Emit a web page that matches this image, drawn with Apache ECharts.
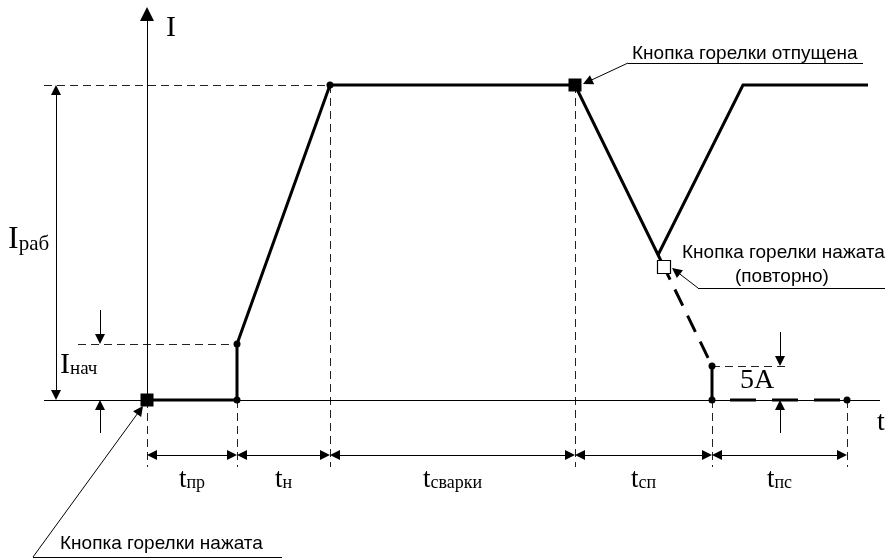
<!DOCTYPE html>
<html><head><meta charset="utf-8">
<script src="https://cdn.jsdelivr.net/npm/echarts@6/dist/echarts.min.js"></script>
<style>html,body{margin:0;padding:0;background:#fff}#c{width:885px;height:560px}</style>
</head><body><div id="c"></div>
<script>
// ---- data (time units / current units measured from the origin) ----
const phaseTimes = [0, 90, 183, 428, 565, 700];          // phase boundaries
const phaseNames = ['пр', 'н', 'сварки', 'сп', 'пс'];     // t subscripts
const I_RAB = 315;      // working current
const I_NACH = 56;      // start current
const I_5A = 34;        // 5 A level
const weldCurve = [[0, 0], [90, 0], [90, 56], [183, 315], [428, 315], [517, 133]];
const downslopeRest = [[517, 133], [565, 34]];
const finalDrop = [[565, 34], [565, 0]];
const postFlow = [[565, 0], [700, 0]];
const restartCurve = [[511, 145], [596, 315], [721, 315]];
const dotPoints = [[90, 0], [90, 56], [183, 315], [565, 34], [565, 0], [700, 0]];
const pressPoints = [[0, 0], [428, 315]];
const repressPoint = [[517, 133]];
const calloutTexts = ['Кнопка горелки нажата', 'Кнопка горелки отпущена', 'Кнопка горелки нажата', '(повторно)'];

// ---- layout ----
const SERIF = '"Liberation Serif","Times New Roman",serif';
const SANS = '"Liberation Sans",Arial,sans-serif';
const DIM_Y = -55, TICK_BOTTOM = -67, LABEL_Y = -80;
const AX_LEFT = -103, AX_RIGHT = 733, AX_TOP = 393;
const CALLOUT_FS = 19;

function shorten(a, b, da, db) {
  const dx = b[0] - a[0], dy = b[1] - a[1], L = Math.hypot(dx, dy);
  return [[a[0] + dx / L * da, a[1] + dy / L * da], [b[0] - dx / L * db, b[1] - dy / L * db]];
}
const AS = 10;   // arrow size
const h = AS / 2;

const plainLines = [
  [[AX_LEFT, 0], [AX_RIGHT, 0]],
  [[-114, -157], [135, -157]],
  [[481, 337], [716, 337]],
  [[551, 112], [738, 112]]
];
const endArrowLines = [
  shorten([-114, -157], [-4, -6], 0, h),
  shorten([481, 337], [436, 316], 0, h),
  shorten([551, 112], [525, 132], 0, h),
  shorten([-47, 90], [-47, I_NACH], 0, h),
  shorten([-47, -33], [-47, 0], 0, h),
  shorten([633, 68], [633, I_5A], 0, h),
  shorten([633, -33], [633, 0], 0, h)
];
const bothArrowLines = [shorten([-91, 0], [-91, I_RAB], h, h)];
for (let i = 0; i < phaseTimes.length - 1; i++) {
  bothArrowLines.push(shorten([phaseTimes[i], DIM_Y], [phaseTimes[i + 1], DIM_Y], h, h));
}
const guideLines = [
  [[AX_LEFT, I_RAB], [phaseTimes[2], I_RAB]],
  [[-69, I_NACH], [phaseTimes[1], I_NACH]],
  [[phaseTimes[4], I_5A], [643, I_5A]],
  [[phaseTimes[2], I_RAB], [phaseTimes[2], TICK_BOTTOM]],
  [[phaseTimes[3], I_RAB], [phaseTimes[3], TICK_BOTTOM]],
  [[phaseTimes[0], 0], [phaseTimes[0], TICK_BOTTOM]],
  [[phaseTimes[1], 0], [phaseTimes[1], TICK_BOTTOM]],
  [[phaseTimes[4], 0], [phaseTimes[4], TICK_BOTTOM]],
  [[phaseTimes[5], 0], [phaseTimes[5], TICK_BOTTOM]]
];

function linesSeries(list, symbol, size, style) {
  return {
    type: 'lines', coordinateSystem: 'cartesian2d', silent: true,
    symbol: symbol, symbolSize: size,
    lineStyle: Object.assign({ color: '#000', width: 1, opacity: 1, curveness: 0 }, style || {}),
    itemStyle: { color: '#000' },
    data: list.map(c => ({ coords: c })),
    z: 2
  };
}
function curve(data, style, z) {
  return {
    type: 'line', data: data, symbol: 'none', silent: true,
    lineStyle: Object.assign({ color: '#000', width: 3, cap: 'butt', join: 'miter' }, style || {}),
    z: z || 3
  };
}

const sub = (big, small, bs, ss) => ({
  formatter: '{a|' + big + '}{b|' + small + '}',
  rich: {
    a: { fontFamily: SERIF, fontSize: bs, color: '#000', verticalAlign: 'bottom' },
    b: { fontFamily: SERIF, fontSize: ss, color: '#000', verticalAlign: 'bottom', padding: [0, 0, 1, 0] }
  }
});
const textItems = [
  { value: [19, 372], label: { formatter: 'I', fontFamily: SERIF, fontSize: 30, align: 'left' } },
  { value: [734, -23], label: { formatter: 't', fontFamily: SERIF, fontSize: 28, align: 'center' } },
  { value: [-139, 160], label: Object.assign({ align: 'left' }, sub('I', 'раб', 32, 21)) },
  { value: [-87, 35], label: Object.assign({ align: 'left' }, sub('I', 'нач', 30, 19)) },
  { value: [593, 19], label: { formatter: '5A', fontFamily: SERIF, fontSize: 28, align: 'left' } },
  { value: [-87, -144], label: { formatter: calloutTexts[0], fontFamily: SANS, fontSize: CALLOUT_FS, align: 'left' } },
  { value: [485, 346], label: { formatter: calloutTexts[1], fontFamily: SANS, fontSize: CALLOUT_FS, align: 'left' } },
  { value: [535, 147], label: { formatter: calloutTexts[2], fontFamily: SANS, fontSize: CALLOUT_FS, align: 'left' } },
  { value: [588, 123], label: { formatter: calloutTexts[3], fontFamily: SANS, fontSize: CALLOUT_FS, align: 'left' } }
];
for (let i = 0; i < phaseNames.length; i++) {
  textItems.push({
    value: [(phaseTimes[i] + phaseTimes[i + 1]) / 2, LABEL_Y],
    label: Object.assign({ align: 'center' }, sub('t', phaseNames[i], 27, 18))
  });
}

const chart = echarts.init(document.getElementById('c'), null, { renderer: 'canvas' });
chart.setOption({
  animation: false,
  backgroundColor: '#fff',
  grid: { left: 0, right: 0, top: 0, bottom: 0, containLabel: false, outerBoundsMode: 'none' },
  xAxis: { type: 'value', min: -147, max: 738, show: false },
  yAxis: { type: 'value', min: -160, max: 400, show: false },
  series: [
    linesSeries(guideLines, ['none', 'none'], 0, { type: [8, 5], color: '#222' }),
    linesSeries(plainLines, ['none', 'none'], 0),
    linesSeries([shorten([0, 0], [0, AX_TOP], 0, 7)], ['none', 'triangle'], 14),
    linesSeries(endArrowLines, ['none', 'triangle'], AS),
    linesSeries(bothArrowLines, ['triangle', 'triangle'], AS),
    curve(weldCurve),
    curve(downslopeRest, { type: [18, 11], dashOffset: 4 }),
    curve(finalDrop, { type: [28, 4], dashOffset: -3 }),
    curve(postFlow, { type: [26, 16], dashOffset: 24 }),
    curve(restartCurve),
    {
      type: 'scatter', data: dotPoints, symbol: 'circle', symbolSize: 7, silent: true,
      itemStyle: { color: '#000', opacity: 1 }, z: 5
    },
    {
      type: 'scatter', data: pressPoints, symbol: 'rect', symbolSize: 13, silent: true,
      itemStyle: { color: '#000', opacity: 1 }, z: 5
    },
    {
      type: 'scatter', data: repressPoint, symbol: 'rect', symbolSize: 13, silent: true,
      itemStyle: { color: '#fff', borderColor: '#000', borderWidth: 1.2, opacity: 1 }, z: 6
    },
    {
      type: 'scatter', data: textItems, symbol: 'circle', symbolSize: 1, silent: true,
      itemStyle: { color: 'rgba(0,0,0,0)' },
      label: { show: true, position: 'inside', verticalAlign: 'middle', color: '#000', opacity: 1 },
      z: 7
    }
  ]
});
</script>
</body></html>
